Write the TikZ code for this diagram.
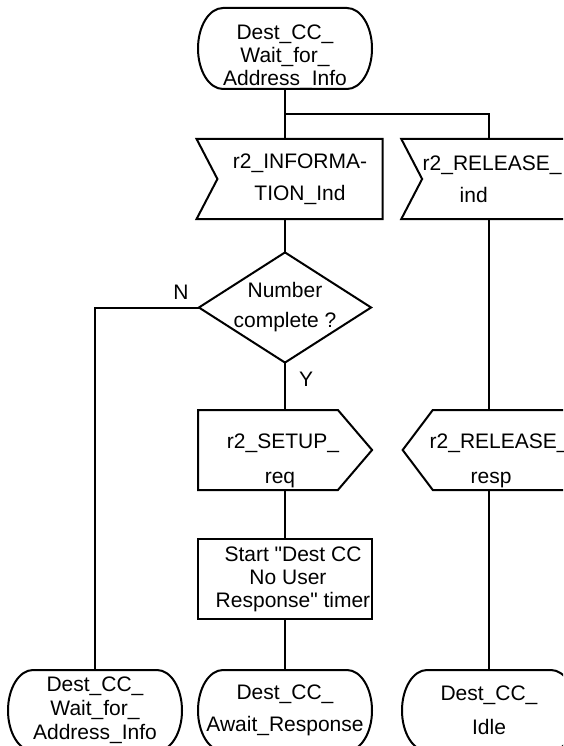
\documentclass[tikz,border=0pt]{standalone}
\usepackage{fontspec}
\setmainfont{Liberation Sans}
\usepackage{tikz}
\usetikzlibrary{positioning, calc, shapes.geometric, shapes.symbols}

\begin{document}
\begin{tikzpicture}[
        x=1pt, y=1pt,
        line width=2pt,
        font=\fontsize{21}{24}\selectfont,
        node distance=47pt and 28pt,
        base/.style={draw,inner sep=-25pt,align=center,font=\fontsize{21}{#1}\selectfont},
        estado/.style={base=#1,draw=none,rectangle,inner sep=0pt,minimum width=176pt,minimum height=83pt,
            path picture={\draw ($(path picture bounding box.center)+(-62,40.5)$) -- ++(124,0)
                arc[start angle=90,end angle=-90,x radius=25pt,y radius=40.5pt] -- ++(-124,0)
                arc[start angle=270,end angle=90,x radius=25pt,y radius=40.5pt] -- cycle;}},
        entrada/.style={base=32,signal,signal from=west,signal to=nowhere,signal pointer angle=125,minimum width=186pt,minimum height=80pt},
        saida/.style={base=35,signal,signal to=#1,minimum width=174pt,minimum height=80pt},
        decisao/.style={base=30,diamond,aspect=1.56,minimum width=173pt,minimum height=111pt},
        tarefa/.style={base=23,rectangle,minimum width=174pt,minimum height=80pt},
        linha/.style={line cap=rect},
        marca/.style={inner sep=0pt}
    ]
        \useasboundingbox (0,0) rectangle (563,-746);
        \clip (0,0) rectangle (563,-746);

        \node[estado=23] (espera) at (285,-48.5) {\rule{0pt}{32pt}Dest\_CC\_\\Wait\_for\_\\Address\_Info};
        \node[entrada,below=of espera,xshift=15pt] (info) {r2\_INFORMA-\\TION\_Ind};
        \node[decisao,below=31pt of info,xshift=-15pt] (numero) {Number\\complete ?};
        \node[saida=east,signal pointer angle=99,below=45pt of numero,xshift=-17pt] (setup)
            {\rule{0pt}{37pt}\hspace*{30pt}r2\_SETUP\_\\\hspace*{24pt}req};
        \node[tarefa,below=47pt of setup,xshift=17pt] (timer)
            {\hspace*{16pt}Start \textquotedbl Dest CC\\\hspace*{6pt}No User\\\hspace*{16pt}Response\textquotedbl\ timer};
        \node[estado=32,below=48pt of timer] (aguarda) {Dest\_CC\_\\Await\_Response};
        \node[estado=24,left=12pt of aguarda] (espera2) {Dest\_CC\_\\Wait\_for\_\\Address\_Info};
        \node[estado=34,right=26pt of aguarda] (ocioso) {Dest\_CC\_\\Idle};
        \node[saida=west,signal pointer angle=106,right=of setup] (libresp)
            {\rule{0pt}{37pt}\makebox[150pt][l]{r2\_RELEASE\_}\\\makebox[68pt][l]{resp}};
        \node[entrada] (libind) at (info -| libresp)
            {\makebox[164pt][l]{r2\_RELEASE\_}\\\makebox[90pt][l]{ind}};

        \coordinate (ramo) at ($(espera.south)!0.5!(espera |- info.north)$);

        % coluna principal
        \draw[linha] (espera) -- (espera |- info.north);
        \draw[linha] (numero |- info.south) -- (numero);
        \draw[linha] (numero.west) node[marca,anchor=south east,xshift=-8pt,yshift=7pt] {N} -| (espera2);
        \draw[linha] (numero.south) node[marca,anchor=north west,xshift=13pt,yshift=-7.5pt] {Y} -- (numero |- setup.north);
        \draw[linha] (timer |- setup.south) -- (timer);
        \draw[linha] (timer) -- (aguarda);

        % coluna da liberacao
        \draw[linha] (ramo) -| (ocioso |- libind.north);
        \draw[linha] (ocioso |- libind.south) -- (ocioso |- libresp.north);
        \draw[linha] (ocioso |- libresp.south) -- (ocioso);
    \end{tikzpicture}
\end{document}
